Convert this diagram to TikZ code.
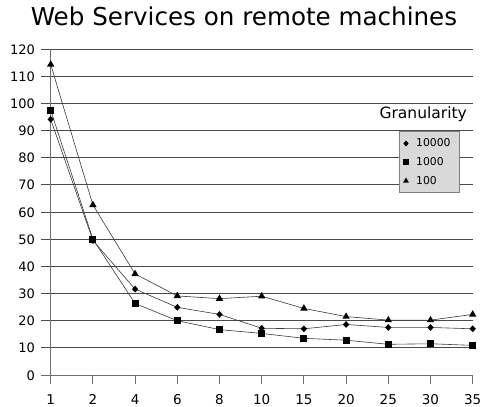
\documentclass[tikz,border=0pt]{standalone}
\usepackage{fontspec}
\setmainfont{DejaVu Sans}
\usetikzlibrary{shapes.geometric}
\definecolor{gridgray}{HTML}{4A4A4A}
\definecolor{seriesgray}{HTML}{3A3A3A}
\definecolor{legendfill}{HTML}{D9D9D9}
\definecolor{legendedge}{HTML}{808080}
\tikzset{
  gridline/.style={draw=gridgray, line width=0.9pt},
  axisline/.style={draw=gridgray!80, line width=0.9pt},
  series/.style={draw=seriesgray, line width=0.6pt},
  dmark/.style={diamond, fill=black, inner sep=0pt, minimum width=6.5pt, minimum height=7pt},
  smark/.style={rectangle, fill=black, inner sep=0pt, minimum size=7pt},
  tmark/.style={regular polygon, regular polygon sides=3, fill=black, inner sep=0pt, minimum size=8.5pt},
  ylab/.style={anchor=base east, inner sep=0pt, font=\fontsize{13}{15}\selectfont},
  xlab/.style={anchor=base, inner sep=0pt, font=\fontsize{13.5}{16}\selectfont},
  titletext/.style={anchor=base, inner sep=0pt, font=\fontsize{24.6}{29}\selectfont},
  legtext/.style={anchor=base west, inner sep=0pt, font=\fontsize{10.8}{12}\selectfont},
  legbox/.style={draw=legendedge, fill=legendfill, line width=0.8pt},
}
\begin{document}
\begin{tikzpicture}[x=1pt, y=1pt]
\useasboundingbox (0,0) rectangle (480,407);
\fill[white] (0,0) rectangle (480,407);

% title
\node[titletext] (title) at (244,381) {Web Services on remote machines};

% chart area in data units: one category per x unit, one percent per y unit
\begin{scope}[shift={(50.7,32)}, x=42.2pt, y=2.717pt]
  % horizontal grid with value labels
  \foreach \v in {10,20,...,120} {
    \draw[gridline] (-0.23,\v) -- (10,\v);
  }
  \foreach \v in {0,10,...,120} {
    \node[ylab] (y\v) at (-0.37,\v-1.9) {\v};
  }
  % axes
  \draw[axisline] (-0.23,0) -- (10,0);
  \draw[axisline] (0,120) -- (0,-3.4);
  % category ticks and labels
  \foreach \c [count=\i from 0] in {1,2,4,6,8,10,15,20,25,30,35} {
    \draw[axisline] (\i,0) -- (\i,-3.4);
    \node[xlab] (x\i) at (\i,-10.7) {\c};
  }

  % data points
  \foreach \v [count=\i from 0] in {94.1,49.5,31.6,24.9,22.3,17.2,17.0,18.6,17.5,17.5,17.0}
    \coordinate (d\i) at (\i,\v);
  \foreach \v [count=\i from 0] in {97.4,50.0,26.3,20.0,16.7,15.3,13.5,12.8,11.3,11.5,10.9}
    \coordinate (s\i) at (\i,\v);
  \foreach \v [count=\i from 0] in {114.3,62.6,37.2,29.1,28.1,29.0,24.5,21.5,20.2,20.2,22.3}
    \coordinate (t\i) at (\i,\v);
\end{scope}

% series lines
\draw[series] (d0) \foreach \i in {1,...,10} { -- (d\i) };
\draw[series] (s0) \foreach \i in {1,...,10} { -- (s\i) };
\draw[series] (t0) \foreach \i in {1,...,10} { -- (t\i) };

% series markers
\foreach \i in {0,...,10} {
  \node[dmark] at (d\i) {};
  \node[smark] at (s\i) {};
  \node[tmark] at (t\i) {};
}

% legend
\node[anchor=base east, inner sep=0pt, font=\fontsize{15.5}{18}\selectfont] (legtitle) at (467,288) {Granularity};
\draw[legbox] (399,276) rectangle (459,215);
\node[dmark, minimum width=5.5pt, minimum height=6pt] (k1) at (406,263.5) {};
\node[legtext] (l1) at (416,260.3) {10000};
\node[smark, minimum size=6pt] (k2) at (406,244.5) {};
\node[legtext] (l2) at (416,241.3) {1000};
\node[tmark, minimum size=7pt] (k3) at (406,226) {};
\node[legtext] (l3) at (416,222.7) {100};
\end{tikzpicture}
\end{document}
